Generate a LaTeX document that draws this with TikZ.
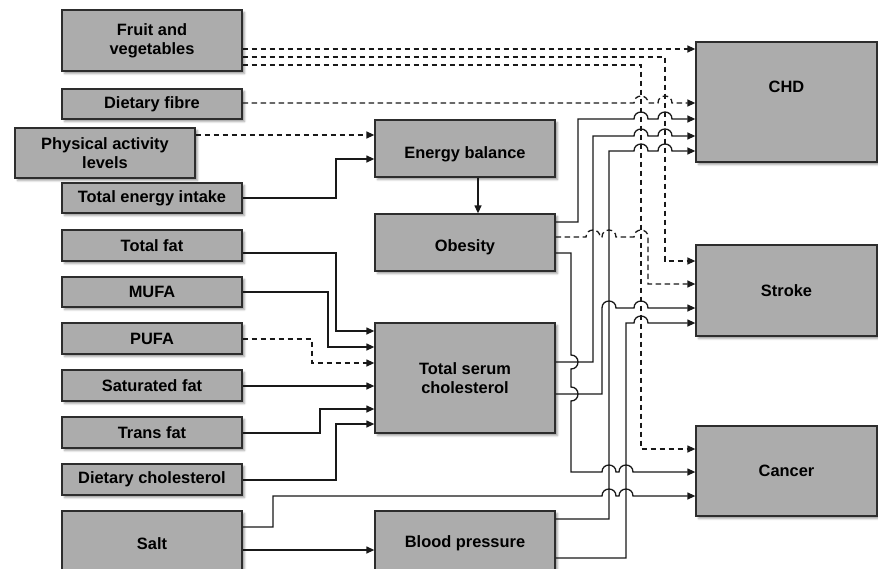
\documentclass[tikz,border=0pt]{standalone}
\usepackage{fontspec}
\setmainfont{Liberation Sans}
\usetikzlibrary{arrows.meta,shadows.blur}
\definecolor{boxgray}{RGB}{172,172,172}
\definecolor{edgegray}{RGB}{45,45,45}
\definecolor{linegray}{RGB}{25,25,25}
\newcommand{\hopH}[2]{-- (#1-7,#2) .. controls (#1-7,#2-9.3) and (#1+7,#2-9.3) .. (#1+7,#2)}
\newcommand{\hopV}[2]{-- (#1,#2-7) .. controls (#1+9.3,#2-7) and (#1+9.3,#2+7) .. (#1,#2+7)}
\begin{document}
\begin{tikzpicture}[x=1pt,y=-1pt,
  boxfont/.style={font=\bfseries\fontsize{16.4}{19}\selectfont},
  box/.style={draw=edgegray, line width=1.3pt, fill=boxgray, boxfont, align=center,
    minimum width=180pt, inner sep=2pt,
    blur shadow={shadow xshift=2.5pt, shadow yshift=-2.5pt, shadow blur radius=2pt}},
  conn/.style={draw=linegray, line width=1.3pt, -{Triangle[length=8pt,width=7pt]}},
  dconn/.style={conn, dash pattern=on 5.5pt off 3.5pt}]
\useasboundingbox (0,0) rectangle (878,568);
\clip (0,0) rectangle (878,568);
% left column
\node[box, minimum height=61pt] (fv) at (152,40.5) {Fruit and\\vegetables};
\node[box, minimum height=30pt] (df) at (152,104) {Dietary fibre};
\node[box, minimum height=50pt] (pa) at (105,153) {Physical activity\\levels};
\node[box, minimum height=30pt] (te) at (152,198) {Total energy intake};
\node[box, minimum height=31pt] (tf) at (152,245.5) {Total fat};
\node[box, minimum height=30pt] (mu) at (152,292) {MUFA};
\node[box, minimum height=31pt] (pu) at (152,338.5) {PUFA};
\node[box, minimum height=31pt] (sf) at (152,385.5) {Saturated fat};
\node[box, minimum height=31pt] (tr) at (152,432.5) {Trans fat};
\node[box, minimum height=31pt] (dc) at (152,479.5) {Dietary cholesterol};
\node[box, minimum height=65pt] (salt) at (152,543.5) {Salt};
% middle column
\node[box, minimum height=57pt, text height=19pt, text depth=0pt] (eb) at (465,148.5) {Energy balance};
\node[box, minimum height=57pt, text height=18pt, text depth=0pt] (ob) at (465,242.5) {Obesity};
\node[box, minimum height=110pt] (tsc) at (465,378) {Total serum\\cholesterol};
\node[box, minimum height=65pt] (bp) at (465,543.5) {Blood pressure};
% right column
\node[box, minimum width=181pt, minimum height=120pt,
  label={[boxfont, yshift=15pt]center:CHD}] (chd) at (786.5,102) {};
\node[box, minimum width=181pt, minimum height=91pt] (stroke) at (786.5,290.5) {Stroke};
\node[box, minimum width=181pt, minimum height=90pt] (cancer) at (786.5,471) {Cancer};
% connectors
\draw[dconn] (fv.east |- 0,49) -- (chd.west |- 0,49);
\draw[dconn] (fv.east |- 0,57) -- (665,57) -- (665,261) -- (stroke.west |- 0,261);
\draw[dconn] (fv.east |- 0,65) -- (641,65) -- (641,449) -- (cancer.west |- 0,449);
\draw[dconn] (df.east |- 0,103) \hopH{641}{103} \hopH{665}{103} -- (chd.west |- 0,103);
\draw[dconn] (pa.east |- 0,135) -- (eb.west |- 0,135);
\draw[conn] (te.east) -- (336,198) -- (336,159) -- (eb.west |- 0,159);
\draw[conn] (eb.south -| 478,0) -- (ob.north -| 478,0);
\draw[conn] (ob.east |- 0,222) -- (578,222) -- (578,119) \hopH{641}{119} \hopH{665}{119} -- (chd.west |- 0,119);
\draw[dconn] (ob.east |- 0,237) \hopH{593}{237} \hopH{609}{237} \hopH{641}{237} -- (648,237) -- (648,284) -- (stroke.west |- 0,284);
\draw[conn] (ob.east |- 0,253) -- (571,253) \hopV{571}{362} \hopV{571}{394} -- (571,472) \hopH{609}{472} \hopH{626}{472} -- (cancer.west |- 0,472);
\draw[conn] (tf.east |- 0,253) -- (336,253) -- (336,331) -- (tsc.west |- 0,331);
\draw[conn] (mu.east) -- (328,292) -- (328,347) -- (tsc.west |- 0,347);
\draw[dconn] (pu.east |- 0,339) -- (312,339) -- (312,363) -- (tsc.west |- 0,363);
\draw[conn] (sf.east |- 0,386) -- (tsc.west |- 0,386);
\draw[conn] (tr.east |- 0,433) -- (320,433) -- (320,409) -- (tsc.west |- 0,409);
\draw[conn] (dc.east |- 0,480) -- (336,480) -- (336,424) -- (tsc.west |- 0,424);
\draw[conn] (tsc.east |- 0,362) -- (593,362) -- (593,136) \hopH{641}{136} \hopH{665}{136} -- (chd.west |- 0,136);
\draw[conn] (tsc.east |- 0,394) -- (602,394) -- (602,308) \hopH{609}{308} \hopH{641}{308} -- (stroke.west |- 0,308);
\draw[conn] (salt.east |- 0,527) -- (273,527) -- (273,496) \hopH{609}{496} \hopH{626}{496} -- (cancer.west |- 0,496);
\draw[conn] (salt.east |- 0,550) -- (bp.west |- 0,550);
\draw[conn] (bp.east |- 0,519) -- (609,519) -- (609,151) \hopH{641}{151} \hopH{665}{151} -- (chd.west |- 0,151);
\draw[conn] (bp.east |- 0,558) -- (626,558) -- (626,323) \hopH{641}{323} -- (stroke.west |- 0,323);
\end{tikzpicture}
\end{document}
